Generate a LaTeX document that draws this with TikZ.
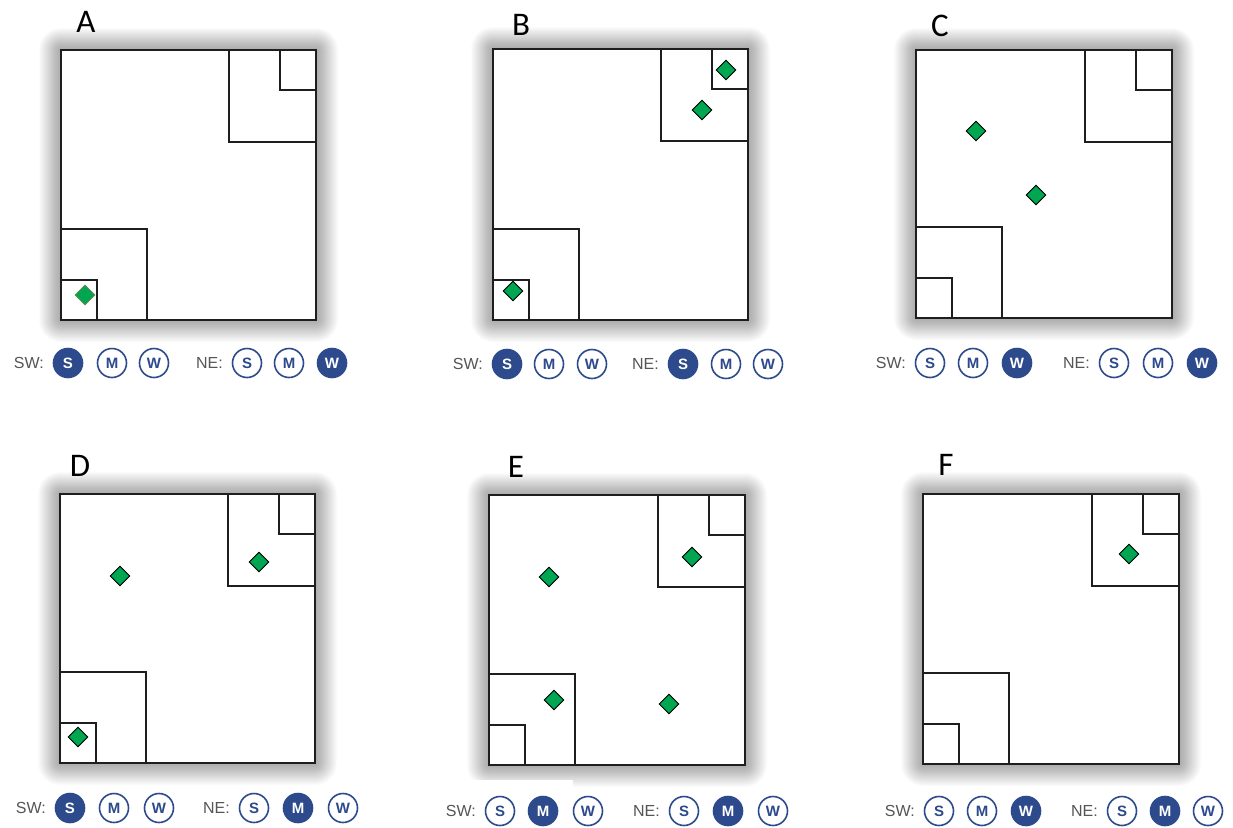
\documentclass[tikz,border=0pt]{standalone}
\usepackage{fontspec}
\setmainfont{Liberation Sans}
\newfontfamily\calib{Carlito}
\usetikzlibrary{shapes.geometric}
\definecolor{navy}{RGB}{44,74,140}
\definecolor{gemgreen}{RGB}{0,166,81}
\definecolor{gemedge}{RGB}{90,140,70}
\definecolor{labgray}{RGB}{85,85,85}
\definecolor{ink}{RGB}{30,30,30}
\tikzset{
  frame/.style={draw=ink, line width=2pt},
  gem/.style={diamond, draw=black, fill=gemgreen, line width=0.9pt, minimum width=20pt, minimum height=20pt, inner sep=0pt},
  gemA/.style={gem, draw=gemedge},
  selon/.style={circle, minimum size=29pt, inner sep=0pt, fill=navy, draw=navy, line width=1.6pt, text=white, font=\bfseries\fontsize{15}{15}\selectfont},
  seloff/.style={circle, minimum size=29pt, inner sep=0pt, fill=white, draw=navy, line width=1.6pt, text=navy, font=\bfseries\fontsize{15}{15}\selectfont},
  tag/.style={anchor=east, inner sep=0pt, text=labgray, font=\fontsize{16}{16}\selectfont},
  plabel/.style={inner sep=0pt, font=\calib\fontsize{33}{33}\selectfont, text=black}
}
% #1 x0, #2 y0, #3 x1, #4 y1
\newcommand\mypanel[4]{%
  \foreach \i in {1,...,22}{
    \fill[black, opacity=0.014, rounded corners=\i pt] ({#1-\i},{#2-\i}) rectangle ({#3+\i},{#4+\i});
  }
  \fill[white] (#1,#2) rectangle (#3,#4);
  \draw[frame] ({#3-87},#2) -- ({#3-87},{#2+92}) -- (#3,{#2+92});
  \draw[frame] ({#3-36},#2) -- ({#3-36},{#2+40}) -- (#3,{#2+40});
  \draw[frame] (#1,{#4-91}) -- ({#1+86},{#4-91}) -- ({#1+86},#4);
  \draw[frame] (#1,{#4-40}) -- ({#1+36},{#4-40}) -- ({#1+36},#4);
  \draw[frame] (#1,#2) rectangle (#3,#4);
}
\begin{document}
\begin{tikzpicture}[x=1pt, y=-1pt]
\useasboundingbox (0,0) rectangle (1233,827);
\fill[white] (0,0) rectangle (1233,827);

% ---------- Panel A ----------
\mypanel{61}{50}{316}{320}
\node[plabel] (lA) at (86,22) {A};
\node[gemA] (A-d1) at (85,295) {};
\node[selon]  (A-sw-s) at (68,363) {S};
\node[seloff] (A-sw-m) at (112,363) {M};
\node[seloff] (A-sw-w) at (154,363) {W};
\node[tag] (A-sw) at (44,363) {SW:};
\node[seloff] (A-ne-s) at (247,363) {S};
\node[seloff] (A-ne-m) at (289,363) {M};
\node[selon]  (A-ne-w) at (332,363) {W};
\node[tag] (A-ne) at (223,363) {NE:};

% ---------- Panel B ----------
\mypanel{493}{49}{748}{320}
\node[plabel] (lB) at (521,25) {B};
\node[gem] (B-d1) at (726,70) {};
\node[gem] (B-d2) at (702,110) {};
\node[gem] (B-d3) at (513,291) {};
\node[selon]  (B-sw-s) at (507,364) {S};
\node[seloff] (B-sw-m) at (549,364) {M};
\node[seloff] (B-sw-w) at (592,364) {W};
\node[tag] (B-sw) at (483,364) {SW:};
\node[selon]  (B-ne-s) at (683,364) {S};
\node[seloff] (B-ne-m) at (726,364) {M};
\node[seloff] (B-ne-w) at (768,364) {W};
\node[tag] (B-ne) at (659,364) {NE:};

% ---------- Panel C ----------
\mypanel{916}{50}{1172}{318}
\node[plabel] (lC) at (940,26) {C};
\node[gem] (C-d1) at (976,131) {};
\node[gem] (C-d2) at (1036,195) {};
\node[seloff] (C-sw-s) at (930,363) {S};
\node[seloff] (C-sw-m) at (973,363) {M};
\node[selon]  (C-sw-w) at (1017,363) {W};
\node[tag] (C-sw) at (906,363) {SW:};
\node[seloff] (C-ne-s) at (1114,363) {S};
\node[seloff] (C-ne-m) at (1158,363) {M};
\node[selon]  (C-ne-w) at (1202,363) {W};
\node[tag] (C-ne) at (1090,363) {NE:};

% ---------- Panel D ----------
\mypanel{60}{494}{315}{763}
\node[plabel] (lD) at (80,466) {D};
\node[gem] (D-d1) at (120,576) {};
\node[gem] (D-d2) at (259,562) {};
\node[gem] (D-d3) at (78,737) {};
\node[selon]  (D-sw-s) at (70,808) {S};
\node[seloff] (D-sw-m) at (114,808) {M};
\node[seloff] (D-sw-w) at (159,808) {W};
\node[tag] (D-sw) at (46,808) {SW:};
\node[seloff] (D-ne-s) at (254,808) {S};
\node[selon]  (D-ne-m) at (298,808) {M};
\node[seloff] (D-ne-w) at (343,808) {W};
\node[tag] (D-ne) at (230,808) {NE:};

% ---------- Panel E ----------
\mypanel{489}{495}{745}{765}
\fill[white] (430,780) rectangle (573,827);
\node[plabel] (lE) at (516,467) {E};
\node[gem] (E-d1) at (549,577) {};
\node[gem] (E-d2) at (692,557) {};
\node[gem] (E-d3) at (554,700) {};
\node[gem] (E-d4) at (669,704) {};
\node[seloff] (E-sw-s) at (500,811) {S};
\node[selon]  (E-sw-m) at (543,811) {M};
\node[seloff] (E-sw-w) at (588,811) {W};
\node[tag] (E-sw) at (476,811) {SW:};
\node[seloff] (E-ne-s) at (684,811) {S};
\node[selon]  (E-ne-m) at (728,811) {M};
\node[seloff] (E-ne-w) at (773,811) {W};
\node[tag] (E-ne) at (660,811) {NE:};

% ---------- Panel F ----------
\mypanel{923}{494}{1179}{764}
\node[plabel] (lF) at (946,465) {F};
\node[gem] (F-d1) at (1129,554) {};
\node[seloff] (F-sw-s) at (939,811) {S};
\node[seloff] (F-sw-m) at (982,811) {M};
\node[selon]  (F-sw-w) at (1026,811) {W};
\node[tag] (F-sw) at (915,811) {SW:};
\node[seloff] (F-ne-s) at (1122,811) {S};
\node[selon]  (F-ne-m) at (1165,811) {M};
\node[seloff] (F-ne-w) at (1208,811) {W};
\node[tag] (F-ne) at (1098,811) {NE:};
\end{tikzpicture}
\end{document}
